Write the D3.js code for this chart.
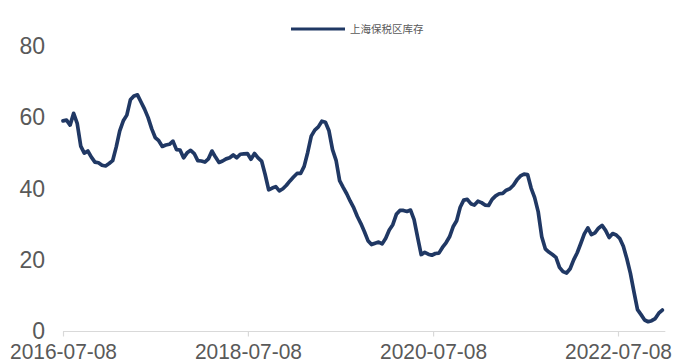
<!DOCTYPE html>
<html>
<head>
<meta charset="utf-8">
<script src="https://cdn.jsdelivr.net/npm/d3@7"></script>
<style>
  html, body { margin: 0; padding: 0; background: #ffffff; }
  svg { display: block; }
</style>
</head>
<body>
<svg id="chart" width="674" height="363"></svg>
<script>
// ---- data ----
const seriesName = "上海保税区库存";
const startDate = "2016-07-08";   // first observation
const stepDays = 14;              // observations every two weeks
const values = [
  59.1, 59.3, 57.9, 61.2, 58.4, 52.0, 50.0, 50.6, 48.9, 47.5,
  47.3, 46.6, 46.4, 47.1, 47.9, 51.7, 56.3, 59.1, 60.7, 65.0,
  66.1, 66.4, 64.4, 62.4, 60.0, 56.9, 54.4, 53.5, 51.9, 52.3,
  52.5, 53.4, 51.0, 50.9, 48.7, 50.1, 50.8, 49.9, 47.9, 47.8,
  47.5, 48.4, 50.6, 48.9, 47.4, 47.8, 48.4, 48.7, 49.5, 48.7,
  49.7, 49.8, 49.9, 48.3, 49.9, 48.7, 47.8, 44.0, 39.7, 40.2,
  40.6, 39.4, 40.0, 41.0, 42.2, 43.3, 44.3, 44.3, 46.3, 50.2,
  54.8, 56.5, 57.4, 59.0, 58.7, 56.3, 51.0, 48.0, 42.3, 40.4,
  38.6, 36.5, 34.6, 32.2, 30.2, 27.9, 25.4, 24.3, 24.7, 25.0,
  24.5, 26.1, 28.4, 29.9, 32.8, 33.9, 33.9, 33.6, 34.0, 31.3,
  26.3, 21.5, 22.1, 21.6, 21.3, 21.8, 21.9, 23.5, 24.8, 26.5,
  29.3, 31.0, 34.8, 36.8, 37.0, 35.8, 35.4, 36.5, 36.1, 35.4,
  35.3, 37.0, 38.0, 38.6, 38.7, 39.6, 40.0, 41.0, 42.5, 43.6,
  44.1, 44.0, 40.2, 37.5, 33.5, 26.5, 23.1, 22.2, 21.5, 20.7,
  17.9, 16.7, 16.3, 17.5, 20.0, 22.0, 24.6, 27.3, 29.0, 27.1,
  27.6, 28.9, 29.7, 28.3, 26.3, 27.4, 27.0, 26.0, 23.8, 20.3,
  16.2, 11.0, 6.0, 4.6, 3.1, 2.6, 2.9, 3.5, 5.0, 5.9
];
const xTickLabels = ["2016-07-08", "2018-07-08", "2020-07-08", "2022-07-08"];
const yTicks = [0, 20, 40, 60, 80];

// ---- build ----
const parse = d3.timeParse("%Y-%m-%d");
const fmt = d3.timeFormat("%Y-%m-%d");
const t0 = parse(startDate);
const data = values.map((v, i) => ({ date: d3.timeDay.offset(t0, i * stepDays), value: v }));

const svg = d3.select("#chart");
const textColor = "#595959";
const lineColor = "#203864";
const axisColor = "#d9d9d9";

const x = d3.scaleTime()
  .domain([parse(xTickLabels[0]), parse(xTickLabels[3])])
  .range([63, 618]);
const y = d3.scaleLinear().domain([0, 80]).range([331, 46.5]);

// y labels
svg.append("g").selectAll("text").data(yTicks).join("text")
  .attr("x", 45)
  .attr("y", d => y(d))
  .attr("dy", "0.34em")
  .attr("text-anchor", "end")
  .attr("font-family", "'Liberation Sans', Arial, sans-serif")
  .attr("font-size", 23)
  .attr("fill", textColor)
  .text(d => d);

// x axis
const axisY = 331.5;
const lastX = x(data[data.length - 1].date) + 3;
const xAxis = d3.axisBottom(x)
  .tickValues(xTickLabels.map(parse))
  .tickFormat(fmt)
  .tickSize(5)
  .tickSizeOuter(0);
const gx = svg.append("g").attr("transform", `translate(0,${axisY})`).call(xAxis);
gx.select(".domain").remove();
gx.append("line").attr("x1", 63).attr("x2", lastX).attr("y1", 0).attr("y2", 0)
  .attr("stroke", axisColor).attr("stroke-width", 1.2);
gx.selectAll(".tick line").attr("stroke", axisColor).attr("stroke-width", 1.2);
gx.selectAll(".tick text")
  .attr("y", 27.5)
  .attr("dy", 0)
  .attr("fill", textColor)
  .attr("font-family", "'Liberation Sans', Arial, sans-serif")
  .attr("font-size", 21.5)
  .attr("textLength", 107)
  .attr("lengthAdjust", "spacingAndGlyphs");

// line
const line = d3.line().x(d => x(d.date)).y(d => y(d.value)).curve(d3.curveLinear);
svg.append("path").datum(data)
  .attr("d", line)
  .attr("fill", "none")
  .attr("stroke", lineColor)
  .attr("stroke-width", 3.7)
  .attr("stroke-linejoin", "round")
  .attr("stroke-linecap", "round");

// legend
svg.append("line").attr("x1", 291).attr("x2", 345).attr("y1", 29).attr("y2", 29)
  .attr("stroke", lineColor).attr("stroke-width", 3);
svg.append("text").attr("x", 350).attr("y", 33)
  .attr("font-family", "'Noto Sans CJK SC', sans-serif")
  .attr("font-size", 10.5)
  .attr("fill", textColor)
  .text(seriesName);
</script>
</body>
</html>
